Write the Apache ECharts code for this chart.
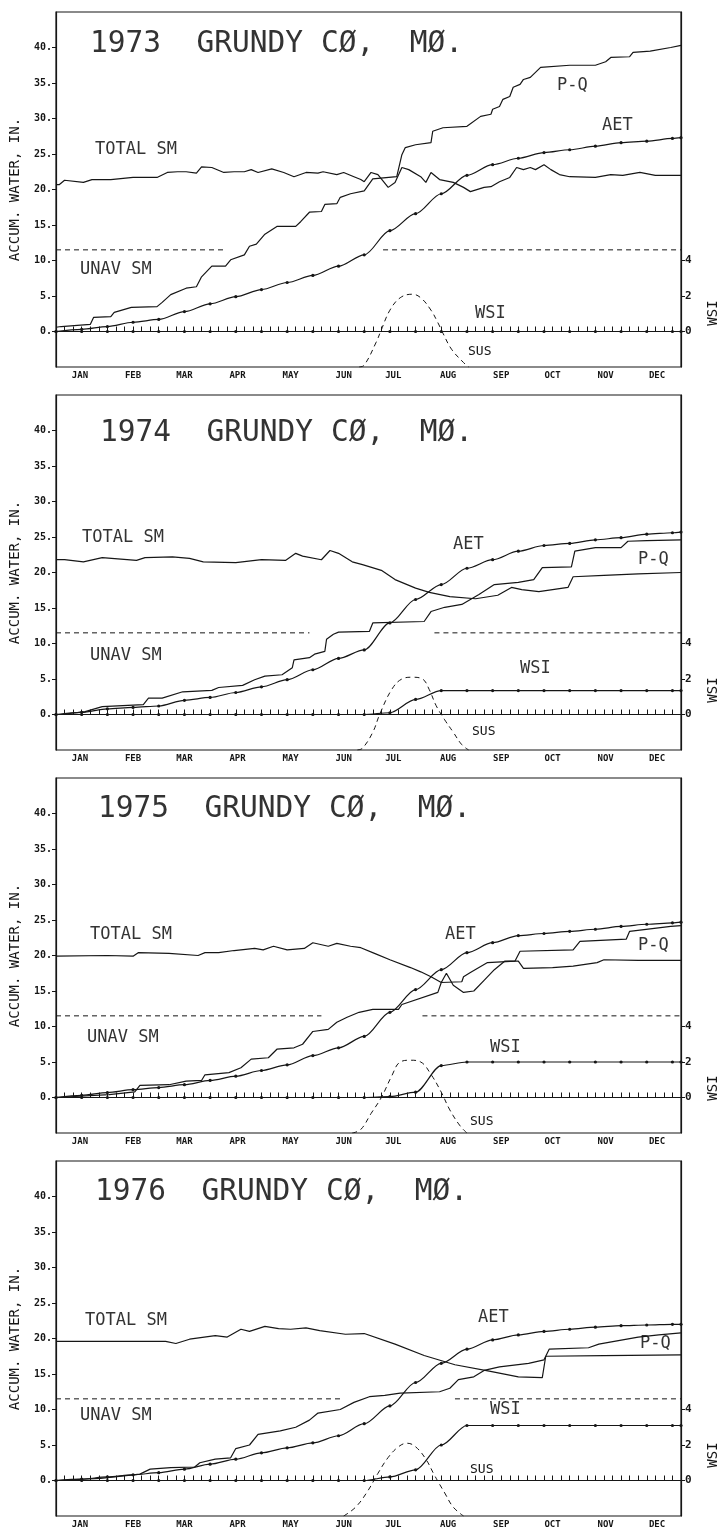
<!DOCTYPE html>
<html>
<head>
<meta charset="utf-8">
<script src="https://cdn.jsdelivr.net/npm/echarts@6/dist/echarts.min.js"></script>
<style>
  html, body { margin: 0; background: #fff; }
  #chart { width: 722px; height: 1538px; }
</style>
</head>
<body>
<div id="chart"></div>
<script>
// ===== data =====
const years = ['1973', '1974', '1975', '1976'];
const monthNames = ['JAN', 'FEB', 'MAR', 'APR', 'MAY', 'JUN', 'JUL', 'AUG', 'SEP', 'OCT', 'NOV', 'DEC'];
const monthMid = [14, 45, 75, 106, 137, 168, 197, 229, 260, 290, 321, 351];
const leftTicks = [0, 5, 10, 15, 20, 25, 30, 35, 40];
const wsiTicks = [0, 2, 4];
const unavLevel = 11.5;

// AET and WSI are plotted at the dotted half-month points
const dotDays = [0, 15, 30, 45, 60, 75, 90, 105, 120, 135, 150, 165, 180, 195, 210, 225, 240, 255, 270, 285, 300, 315, 330, 345, 360, 365];

const aet1973 = [0, 0.3, 0.7, 1.3, 1.7, 2.8, 3.9, 4.9, 5.9, 6.9, 7.9, 9.2, 10.8, 14.2, 16.6, 19.4, 22.0, 23.5, 24.4, 25.2, 25.6, 26.1, 26.6, 26.8, 27.2, 27.3];
const aet1974 = [0, 0.3, 0.8, 1.0, 1.2, 2.0, 2.4, 3.1, 3.9, 4.9, 6.3, 7.9, 9.1, 12.9, 16.2, 18.3, 20.6, 21.8, 23.0, 23.8, 24.1, 24.6, 24.9, 25.4, 25.6, 25.7];
const aet1975 = [0, 0.3, 0.7, 1.1, 1.4, 1.8, 2.4, 3.0, 3.8, 4.6, 5.9, 7.0, 8.6, 12.0, 15.2, 18.0, 20.4, 21.8, 22.8, 23.1, 23.4, 23.7, 24.1, 24.4, 24.6, 24.7];
const aet1976 = [0, 0.2, 0.5, 0.8, 1.1, 1.6, 2.3, 3.0, 3.9, 4.6, 5.3, 6.3, 8.0, 10.5, 13.8, 16.5, 18.5, 19.8, 20.5, 21.0, 21.3, 21.6, 21.8, 21.9, 22.0, 22.0];

const wsi1973 = [0, 0, 0, 0, 0, 0, 0, 0, 0, 0, 0, 0, 0, 0, 0, 0, 0, 0, 0, 0, 0, 0, 0, 0, 0, 0];
const wsi1974 = [0, 0, 0, 0, 0, 0, 0, 0, 0, 0, 0, 0, 0, 0.1, 0.85, 1.35, 1.35, 1.35, 1.35, 1.35, 1.35, 1.35, 1.35, 1.35, 1.35, 1.35];
const wsi1975 = [0, 0, 0, 0, 0, 0, 0, 0, 0, 0, 0, 0, 0, 0.05, 0.3, 1.8, 2.0, 2.0, 2.0, 2.0, 2.0, 2.0, 2.0, 2.0, 2.0, 2.0];
const wsi1976 = [0, 0, 0, 0, 0, 0, 0, 0, 0, 0, 0, 0, 0, 0.2, 0.6, 2.0, 3.1, 3.1, 3.1, 3.1, 3.1, 3.1, 3.1, 3.1, 3.1, 3.1];

// P-Q, [day, inches]
const pq1973 = [[0, 0.6], [3, 0.7], [20, 1.0], [22, 2.0], [32, 2.1], [34, 2.7], [44, 3.4], [59, 3.5], [62, 4.1], [67, 5.2], [76, 6.1], [82, 6.3], [85, 7.7], [91, 9.2], [99, 9.2], [102, 10.1], [110, 10.8], [113, 12.0], [117, 12.3], [122, 13.7], [129, 14.8], [140, 14.8], [143, 15.5], [148, 16.8], [155, 16.9], [157, 17.9], [164, 18.0], [166, 18.9], [172, 19.4], [180, 19.8], [185, 21.5], [199, 21.8], [202, 24.9], [204, 25.9], [210, 26.3], [219, 26.6], [220, 28.2], [226, 28.7], [240, 28.9], [248, 30.3], [254, 30.6], [255, 31.3], [259, 31.7], [261, 32.7], [265, 33.1], [267, 34.4], [271, 34.8], [273, 35.5], [277, 35.8], [283, 37.2], [300, 37.5], [315, 37.5], [321, 38.0], [324, 38.6], [335, 38.7], [337, 39.3], [347, 39.5], [359, 40.0], [365, 40.3]];
const pq1974 = [[0, 0], [3, 0], [17, 0.4], [27, 1.1], [51, 1.4], [54, 2.3], [62, 2.3], [74, 3.2], [91, 3.4], [95, 3.8], [109, 4.1], [116, 4.9], [122, 5.4], [132, 5.6], [138, 6.6], [139, 7.7], [148, 8.0], [151, 8.5], [157, 8.9], [158, 10.6], [162, 11.3], [165, 11.6], [183, 11.7], [185, 12.9], [215, 13.1], [219, 14.5], [227, 15.1], [237, 15.5], [247, 16.9], [256, 18.3], [270, 18.6], [279, 19.0], [284, 20.7], [301, 20.8], [303, 23.0], [315, 23.5], [330, 23.5], [334, 24.4], [345, 24.5], [365, 24.6]];
const pq1975 = [[0, 0], [31, 0.4], [46, 0.8], [49, 1.7], [66, 1.8], [76, 2.3], [85, 2.4], [87, 3.2], [101, 3.5], [108, 4.2], [114, 5.4], [124, 5.6], [129, 6.8], [139, 7.0], [144, 7.5], [150, 9.3], [159, 9.6], [164, 10.6], [170, 11.3], [177, 12.0], [185, 12.4], [200, 12.4], [202, 13.1], [223, 14.8], [225, 16.2], [237, 16.3], [238, 17.0], [242, 17.6], [252, 19.0], [268, 19.2], [271, 20.6], [302, 20.8], [306, 22.0], [333, 22.3], [335, 23.4], [359, 24.1], [365, 24.2]];
const pq1976 = [[0, 0], [26, 0.3], [49, 0.9], [55, 1.6], [67, 1.8], [81, 1.9], [84, 2.5], [93, 3.0], [102, 3.2], [105, 4.5], [113, 5.0], [118, 6.5], [131, 7.0], [140, 7.5], [148, 8.5], [153, 9.5], [166, 10.0], [174, 11.0], [183, 11.8], [192, 12.0], [201, 12.3], [224, 12.5], [230, 13.0], [235, 14.2], [244, 14.6], [250, 15.5], [259, 16.0], [276, 16.5], [285, 17.0], [288, 18.5], [311, 18.7], [317, 19.2], [326, 19.6], [340, 20.2], [352, 20.5], [365, 20.8]];

// TOTAL SM, [day, inches]
const sm1973 = [[0, 20.7], [2, 20.7], [5, 21.3], [16, 21.0], [21, 21.4], [32, 21.4], [45, 21.7], [59, 21.7], [65, 22.4], [71, 22.5], [76, 22.5], [82, 22.3], [85, 23.2], [91, 23.1], [98, 22.4], [104, 22.5], [110, 22.5], [114, 22.8], [118, 22.4], [126, 22.9], [133, 22.4], [139, 21.8], [146, 22.4], [153, 22.3], [156, 22.5], [164, 22.1], [168, 22.4], [174, 21.8], [178, 21.4], [180, 21.1], [184, 22.4], [188, 22.1], [194, 20.3], [198, 21.0], [202, 23.1], [206, 22.8], [213, 21.8], [216, 21.0], [219, 22.4], [224, 21.4], [232, 21.0], [238, 20.3], [242, 19.7], [250, 20.3], [254, 20.4], [259, 21.1], [265, 21.7], [269, 23.1], [273, 22.8], [277, 23.1], [280, 22.8], [285, 23.5], [289, 22.8], [294, 22.1], [300, 21.8], [315, 21.7], [324, 22.1], [331, 22.0], [341, 22.4], [350, 22.0], [365, 22.0]];
const sm1974 = [[0, 21.8], [5, 21.8], [16, 21.5], [27, 22.1], [47, 21.7], [52, 22.1], [68, 22.2], [78, 22.0], [86, 21.5], [105, 21.4], [120, 21.8], [134, 21.7], [140, 22.7], [144, 22.3], [155, 21.8], [160, 23.1], [165, 22.7], [173, 21.5], [179, 21.1], [190, 20.3], [198, 19.0], [210, 17.8], [218, 17.2], [230, 16.6], [245, 16.3], [258, 16.8], [266, 17.9], [272, 17.6], [282, 17.3], [299, 17.9], [302, 19.4], [320, 19.6], [340, 19.8], [365, 20.0]];
const sm1975 = [[0, 19.9], [30, 20.0], [45, 19.9], [48, 20.4], [66, 20.3], [83, 20.0], [87, 20.4], [95, 20.4], [104, 20.7], [116, 21.0], [121, 20.8], [127, 21.3], [135, 20.8], [145, 21.0], [150, 21.8], [159, 21.3], [164, 21.7], [172, 21.3], [178, 21.1], [186, 20.3], [195, 19.4], [207, 18.3], [213, 17.7], [219, 17.0], [225, 16.2], [228, 17.5], [232, 15.8], [238, 14.8], [244, 15.0], [250, 16.5], [256, 18.0], [262, 19.2], [270, 19.2], [273, 18.2], [290, 18.3], [302, 18.5], [316, 19.0], [320, 19.4], [340, 19.3], [365, 19.3]];
const sm1976 = [[0, 19.6], [64, 19.6], [70, 19.3], [78, 19.9], [93, 20.4], [100, 20.2], [108, 21.3], [113, 21.0], [122, 21.7], [130, 21.4], [137, 21.3], [146, 21.5], [154, 21.1], [169, 20.6], [180, 20.7], [198, 19.2], [215, 17.6], [233, 16.3], [253, 15.4], [270, 14.6], [284, 14.5], [286, 17.5], [320, 17.6], [365, 17.7]];

// SUS, [day, WSI units]
const sus1973 = [[177, -2], [180, -1.9], [187, -0.6], [190, 0.1], [195, 1.2], [201, 1.9], [208, 2.1], [213, 1.9], [219, 1.2], [223, 0.5], [226, -0.1], [231, -1.0], [238, -1.75], [241, -2]];
const sus1974 = [[176, -2], [179, -1.9], [185, -1.0], [189, 0], [196, 1.4], [202, 2.0], [208, 2.1], [214, 2.0], [218, 1.4], [222, 0.5], [227, -0.3], [232, -1.0], [237, -1.7], [241, -2]];
const sus1975 = [[173, -2], [178, -1.8], [184, -0.9], [190, 0], [196, 1.2], [201, 2.0], [207, 2.1], [213, 2.0], [219, 1.3], [225, 0.3], [230, -0.7], [236, -1.6], [240, -2]];
const sus1976 = [[168, -2], [175, -1.5], [182, -0.6], [188, 0.4], [194, 1.3], [200, 1.9], [205, 2.1], [210, 1.9], [216, 1.2], [221, 0.3], [227, -0.7], [232, -1.5], [238, -2]];

// where the dashed UNAV SM line is broken
const unavGap1973 = [99, 191];
const unavGap1974 = [148, 221];
const unavGap1975 = [155, 214];
const unavGap1976 = [167, 233];

// ===== layout =====
const INK = '#161616';
const TITLE_INK = '#333';
const MONO = "'DejaVu Sans Mono', monospace";
const PANEL_STEP = 383;
const GRID_TOP = 12;
const GRID_H = 355;

const panels = [
  {aet: aet1973, wsi: wsi1973, pq: pq1973, sm: sm1973, sus: sus1973, gap: unavGap1973},
  {aet: aet1974, wsi: wsi1974, pq: pq1974, sm: sm1974, sus: sus1974, gap: unavGap1974},
  {aet: aet1975, wsi: wsi1975, pq: pq1975, sm: sm1975, sus: sus1975, gap: unavGap1975},
  {aet: aet1976, wsi: wsi1976, pq: pq1976, sm: sm1976, sus: sus1976, gap: unavGap1976}
];

// text placement, pixels
const labelPos = [
  {title: [90, 44], sm: [95, 150], unav: [80, 270], pq: [557, 86], aet: [602, 126], wsi: [475, 314], sus: [468, 352], wsiAxis: 313},
  {title: [100, 433], sm: [82, 538], unav: [90, 656], pq: [638, 560], aet: [453, 545], wsi: [520, 669], sus: [472, 732], wsiAxis: 690},
  {title: [98, 809], sm: [90, 935], unav: [87, 1038], pq: [638, 946], aet: [445, 935], wsi: [490, 1048], sus: [470, 1122], wsiAxis: 1088},
  {title: [95, 1192], sm: [85, 1321], unav: [80, 1416], pq: [640, 1344], aet: [478, 1318], wsi: [490, 1410], sus: [470, 1470], wsiAxis: 1455}
];

function text(str, pos, size, color) {
  return {
    type: 'text',
    x: pos[0],
    y: pos[1],
    silent: true,
    style: {text: str, font: size + 'px ' + MONO, fill: color || INK, verticalAlign: 'middle'}
  };
}

function lineSeries(name, idx, yIdx, data, extra) {
  return Object.assign({
    name: name,
    type: 'line',
    xAxisIndex: idx,
    yAxisIndex: yIdx,
    data: data,
    symbol: 'none',
    lineStyle: {color: INK, width: 1.2},
    itemStyle: {color: INK},
    animation: false,
    silent: true
  }, extra || {});
}

const chart = echarts.init(document.getElementById('chart'));
const grid = [], xAxis = [], yAxis = [], series = [], graphic = [];

panels.forEach((p, i) => {
  grid.push({
    left: 53, right: 41, top: GRID_TOP + PANEL_STEP * i, height: GRID_H,
    show: true, borderColor: INK, borderWidth: 1.2, backgroundColor: '#fff'
  });
  xAxis.push({
    type: 'value', gridIndex: i, min: 0, max: 365, interval: 5,
    axisLine: {lineStyle: {color: INK, width: 1.2}},
    axisTick: {inside: true, length: 5, lineStyle: {color: INK}},
    axisLabel: {
      customValues: monthMid,
      formatter: v => monthNames[monthMid.indexOf(v)] || '',
      color: INK, fontFamily: MONO, fontSize: 9, fontWeight: 'bold', margin: 4
    },
    splitLine: {show: false}
  });
  yAxis.push({
    type: 'value', gridIndex: i, position: 'left', min: -5, max: 45, interval: 5,
    axisLine: {show: true, lineStyle: {color: INK, width: 1.2}},
    axisTick: {show: true, customValues: leftTicks, length: 4, lineStyle: {color: INK}},
    axisLabel: {customValues: leftTicks, formatter: v => v + '.', color: INK, fontFamily: MONO, fontSize: 10, fontWeight: 'bold', margin: 4},
    splitLine: {show: false},
    name: 'ACCUM. WATER, IN.', nameLocation: 'middle', nameGap: 34,
    nameTextStyle: {color: INK, fontFamily: MONO, fontSize: 14}
  });
  yAxis.push({
    type: 'value', gridIndex: i, position: 'right', min: -2, max: 18, interval: 2,
    axisLine: {show: true, lineStyle: {color: INK, width: 1.2}},
    axisTick: {show: true, customValues: wsiTicks, length: 4, lineStyle: {color: INK}},
    axisLabel: {customValues: wsiTicks, color: INK, fontFamily: MONO, fontSize: 11, fontWeight: 'bold', margin: 4},
    splitLine: {show: false}
  });

  const left = 2 * i, right = 2 * i + 1;
  const unav = [[0, unavLevel], [p.gap[0], unavLevel], [(p.gap[0] + p.gap[1]) / 2, '-'], [p.gap[1], unavLevel], [365, unavLevel]];

  series.push(lineSeries('TOTAL SM', i, left, p.sm));
  series.push(lineSeries('P-Q', i, left, p.pq));
  series.push(lineSeries('AET', i, left, dotDays.map((d, k) => [d, p.aet[k]]),
    {symbol: 'circle', symbolSize: 3.2, showAllSymbol: true, smooth: 0.3, smoothMonotone: 'x'}));
  series.push(lineSeries('UNAV SM', i, left, unav,
    {lineStyle: {color: INK, width: 1, type: [5, 4]}}));
  series.push(lineSeries('WSI', i, right, dotDays.map((d, k) => [d, p.wsi[k]]),
    {symbol: 'circle', symbolSize: 3.2, showAllSymbol: true, smooth: 0.3, smoothMonotone: 'x'}));
  series.push(lineSeries('SUS', i, right, p.sus,
    {smooth: 0.4, lineStyle: {color: INK, width: 1, type: [5, 4]}}));

  const lp = labelPos[i];
  graphic.push(text(years[i] + '  GRUNDY CØ,  MØ.', lp.title, 29.5, TITLE_INK));
  graphic.push(text('TOTAL SM', lp.sm, 17, TITLE_INK));
  graphic.push(text('UNAV SM', lp.unav, 17, TITLE_INK));
  graphic.push(text('P-Q', lp.pq, 17, TITLE_INK));
  graphic.push(text('AET', lp.aet, 17, TITLE_INK));
  graphic.push(text('WSI', lp.wsi, 17, TITLE_INK));
  graphic.push(text('SUS', lp.sus, 13));
  graphic.push({
    type: 'text', x: 713, y: lp.wsiAxis, rotation: Math.PI / 2, silent: true,
    style: {text: 'WSI', font: '14px ' + MONO, fill: INK, align: 'center', verticalAlign: 'middle'}
  });
});

chart.setOption({
  backgroundColor: '#fff',
  animation: false,
  grid: grid,
  xAxis: xAxis,
  yAxis: yAxis,
  series: series,
  graphic: graphic
});
</script>
</body>
</html>
